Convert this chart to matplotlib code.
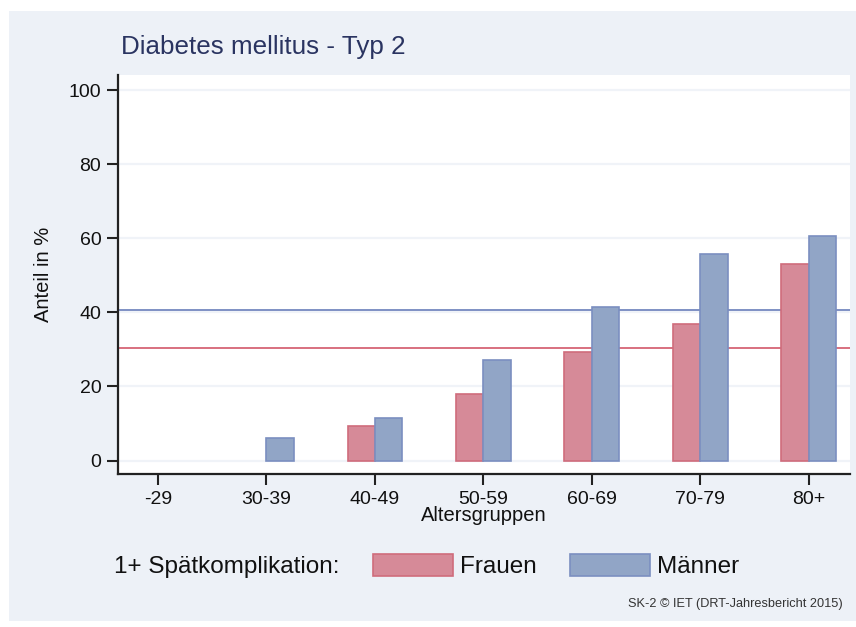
import numpy as np
import matplotlib
matplotlib.use('Agg')
import matplotlib.pyplot as plt
from matplotlib.patches import Rectangle

# Werte (0 = kein Balken)
altersgruppen = ['-29', '30-39', '40-49', '50-59', '60-69', '70-79', '80+']
frauen = [0.0, 0.0, 9.3, 18.0, 29.4, 36.9, 53.1]
maenner = [0.0, 6.0, 11.6, 27.1, 41.3, 55.8, 60.7]
mittel_frauen = 30.3
mittel_maenner = 40.6
y_ticks = [0, 20, 40, 60, 80, 100]

plt.rcParams['font.family'] = ['Liberation Sans', 'DejaVu Sans']

bg = '#EDF1F7'
rot = '#D68A98'
rot_rand = '#CF6C7C'
blau = '#91A5C6'
blau_rand = '#7B8FC0'

fig = plt.figure(figsize=(8.56, 6.27), dpi=100, facecolor='white')
# grauer Hintergrund mit weissem Rand
fig.patches.append(Rectangle((9 / 856, 1 - 621 / 627), 847 / 856, 610 / 627,
                             transform=fig.transFigure, facecolor=bg,
                             edgecolor='none', zorder=-5))

ax = fig.add_axes([118 / 856, 1 - 474 / 627, 732 / 856, 399 / 627])
ax.set_facecolor('white')

x = np.arange(len(altersgruppen))
w = 0.253
f = np.array(frauen)
m = np.array(maenner)
ax.bar(x - w / 2, np.where(f > 0, f, np.nan), w, color=rot, edgecolor=rot_rand,
       linewidth=1.2, label='Frauen', zorder=3)
ax.bar(x + w / 2, np.where(m > 0, m, np.nan), w, color=blau, edgecolor=blau_rand,
       linewidth=1.2, label='Männer', zorder=3)

ax.axhline(mittel_maenner, color='#7E90C4', linewidth=1.4, zorder=2)
ax.axhline(mittel_frauen, color='#D8707F', linewidth=1.4, zorder=2)

for t in y_ticks:
    ax.axhline(t, color='#F0F3F8', linewidth=1.6, zorder=1)

ax.set_xlim(-0.369, 6.38)
ax.set_ylim(-3.64, 104.05)
ax.set_xticks(x)
ax.set_xticklabels(altersgruppen)
ax.set_yticks(y_ticks)
ax.tick_params(axis='both', labelsize=14, length=8, width=1.5, pad=4,
               color='#222222', labelcolor='#111111')

for s in ['top', 'right']:
    ax.spines[s].set_visible(False)
for s in ['left', 'bottom']:
    ax.spines[s].set_linewidth(1.6)
    ax.spines[s].set_color('#222222')

ax.set_xlabel('Altersgruppen', fontsize=14.5, labelpad=-1, color='#111111')
ax.set_ylabel('Anteil in %', fontsize=14.5, labelpad=11, color='#111111')

fig.text(121 / 856, 1 - 47 / 627, 'Diabetes mellitus - Typ 2', fontsize=18.7,
         color='#2A3461', va='center', ha='left')

# Legende
fig.text(114 / 856, 1 - 567 / 627, '1+ Spätkomplikation:', fontsize=17.5,
         color='#111111', va='center', ha='left')
handles, labels = ax.get_legend_handles_labels()
fig.legend(handles, labels, loc='center left',
           bbox_to_anchor=(373 / 856, 1 - 566 / 627), ncol=2, frameon=False,
           fontsize=17.5, handlelength=3.3, handleheight=1.05,
           handletextpad=0.3, columnspacing=1.33, borderpad=0, borderaxespad=0,
           labelcolor='#111111')

fig.text(843 / 856, 1 - 604 / 627, 'SK-2 © IET (DRT-Jahresbericht 2015)',
         fontsize=9.2, color='#333333', ha='right', va='center')

fig.savefig('out.png', dpi=100, facecolor='white')
